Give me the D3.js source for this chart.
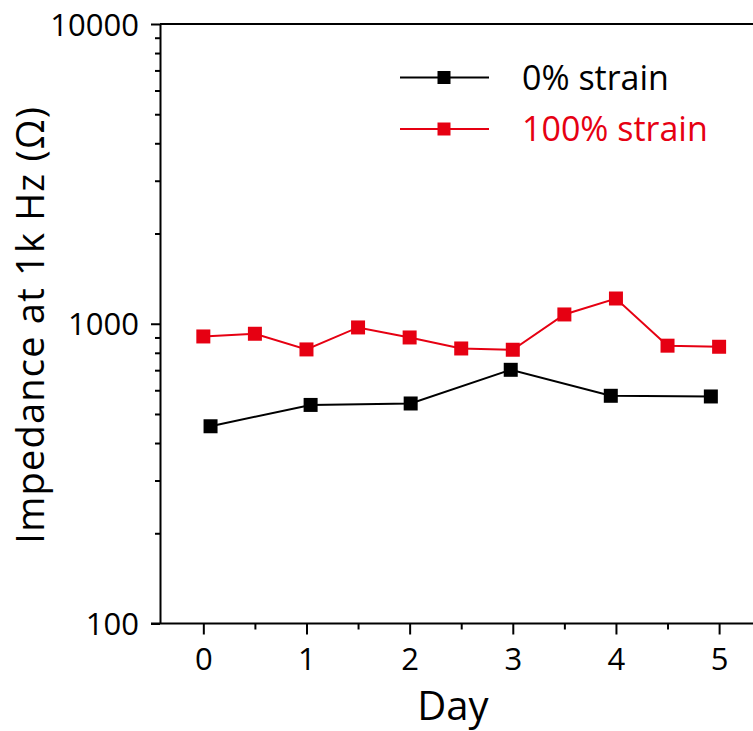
<!DOCTYPE html>
<html>
<head>
<meta charset="utf-8">
<script src="https://cdn.jsdelivr.net/npm/d3@7"></script>
<style>
  html, body { margin: 0; padding: 0; background: #fff; }
  svg { display: block; font-family: "Open Sans", "Noto Sans", sans-serif; }
</style>
</head>
<body>
<svg id="chart" width="753" height="731"></svg>
<script>
// Impedance at 1 kHz over six days, with and without strain
const days0 = [0.07, 1.04, 2.01, 2.98, 3.95, 4.92];
const imp0 = [455, 536, 542, 702, 575, 572];

const days100 = [0, 0.5, 1, 1.5, 2, 2.5, 3, 3.5, 4, 4.5, 5];
const imp100 = [907, 926, 821, 972, 900, 827, 819, 1074, 1214, 845, 838];

const xTicks = [0, 1, 2, 3, 4, 5];
const xMinor = [0.5, 1.5, 2.5, 3.5, 4.5];
const yTicks = [100, 1000, 10000];
const yMinor = [200, 300, 400, 500, 600, 700, 800, 900, 2000, 3000, 4000, 5000, 6000, 7000, 8000, 9000];

const seriesNames = ["0% strain", "100% strain"];
const seriesColors = ["#000000", "#e60012"];

const svg = d3.select("#chart");
const plotL = 160, plotT = 24, plotB = 623.5, plotR = 781;

const x = d3.scaleLinear().domain([-0.42, 5.6]).range([plotL, plotR]);
const y = d3.scaleLog().domain([100, 10000]).range([plotB, plotT]);

// frame: top edge
svg.append("line")
  .attr("x1", plotL).attr("x2", 760).attr("y1", plotT).attr("y2", plotT)
  .attr("stroke", "#000").attr("stroke-width", 2);

// x axis (major + minor ticks)
const gx = svg.append("g").attr("transform", `translate(0,${plotB})`);
gx.call(d3.axisBottom(x).tickValues(xTicks).tickFormat(d3.format("d")).tickSize(11).tickSizeOuter(0).tickPadding(13));
gx.append("g").call(d3.axisBottom(x).tickValues(xMinor).tickFormat("").tickSize(6).tickSizeOuter(0))
  .select(".domain").remove();
gx.select(".domain").attr("d", `M${plotL - 9},0H${760}`);

// y axis (major + minor ticks)
const gy = svg.append("g").attr("transform", `translate(${plotL},0)`);
gy.call(d3.axisLeft(y).tickValues(yTicks).tickFormat(d3.format("d")).tickSize(9).tickSizeOuter(0).tickPadding(12));
gy.append("g").call(d3.axisLeft(y).tickValues(yMinor).tickFormat("").tickSize(5).tickSizeOuter(0))
  .select(".domain").remove();

svg.selectAll(".tick line, .domain").attr("stroke", "#000").attr("stroke-width", 2);
svg.selectAll(".tick text").attr("fill", "#000").attr("font-size", 31)
  .attr("font-family", "'Open Sans', 'Noto Sans', sans-serif");
gx.selectAll(".tick text").attr("dy", "0.72em");
gy.selectAll(".tick text").attr("dy", "0.36em");

// axis titles
svg.append("text")
  .attr("x", x(2.42)).attr("y", 720)
  .attr("text-anchor", "middle").attr("font-size", 40).attr("fill", "#000")
  .text("Day");
svg.append("text")
  .attr("transform", `translate(44,${(plotT + plotB) / 2 + 1}) rotate(-90)`)
  .attr("text-anchor", "middle").attr("font-size", 38).attr("letter-spacing", 1.2)
  .attr("fill", "#000")
  .text("Impedance at 1k Hz (Ω)");

// series
const series = [
  { name: seriesNames[0], color: seriesColors[0], pts: days0.map((d, i) => [d, imp0[i]]) },
  { name: seriesNames[1], color: seriesColors[1], pts: days100.map((d, i) => [d, imp100[i]]) }
];
const line = d3.line().x(d => x(d[0])).y(d => y(d[1]));
const sym = d3.symbol().type(d3.symbolSquare).size(14 * 14);

series.forEach(s => {
  const g = svg.append("g");
  g.append("path").attr("d", line(s.pts)).attr("fill", "none")
    .attr("stroke", s.color).attr("stroke-width", 2);
  g.selectAll("path.pt").data(s.pts).join("path").attr("class", "pt")
    .attr("transform", d => `translate(${x(d[0])},${y(d[1])})`)
    .attr("d", sym).attr("fill", s.color);
});

// legend
const legend = svg.append("g");
series.forEach((s, i) => {
  const ly = 77.5 + i * 51.5;
  legend.append("line").attr("x1", 400).attr("x2", 489).attr("y1", ly).attr("y2", ly)
    .attr("stroke", s.color).attr("stroke-width", 2);
  legend.append("path").attr("transform", `translate(444,${ly})`)
    .attr("d", d3.symbol().type(d3.symbolSquare).size(13 * 13)).attr("fill", s.color);
  legend.append("text").attr("x", 522).attr("y", ly + 12)
    .attr("font-size", 34).attr("fill", s.color).text(s.name);
});
</script>
</body>
</html>
